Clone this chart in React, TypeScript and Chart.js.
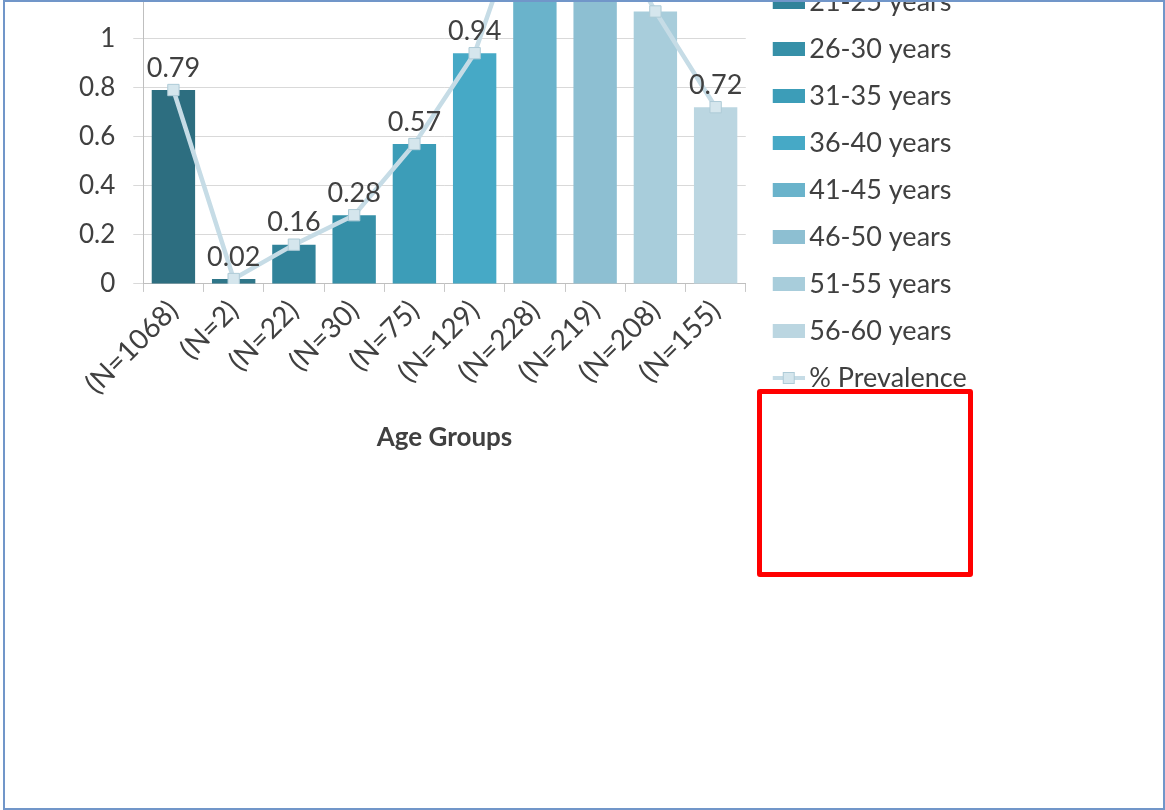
import React, { useEffect, useRef } from "react";
import { Chart, registerables } from "chart.js";

Chart.register(...registerables);

// Age groups (legend) and sample sizes (x-axis categories)
const groupNames = [
  "Total",
  "≤20 years",
  "21-25 years",
  "26-30 years",
  "31-35 years",
  "36-40 years",
  "41-45 years",
  "46-50 years",
  "51-55 years",
  "56-60 years",
];
const sampleSizes = [
  "(N=1068)",
  "(N=2)",
  "(N=22)",
  "(N=30)",
  "(N=75)",
  "(N=129)",
  "(N=228)",
  "(N=219)",
  "(N=208)",
  "(N=155)",
];
// % prevalence per group
const prevalence = [0.79, 0.02, 0.16, 0.28, 0.57, 0.94, 1.65, 1.55, 1.11, 0.72];
const barColors = [
  "#2d6e80",
  "#2f7689",
  "#31839a",
  "#3690a8",
  "#3c9db8",
  "#46a9c6",
  "#6ab3cb",
  "#8dbfd2",
  "#a8cddb",
  "#bbd6e1",
];
const lineColor = "#c6dce6";
const markerFill = "#d5e6ed";
const markerEdge = "#aecbd7";

const FONT = "Lato, 'Open Sans', sans-serif";
const TEXT = "#404040";

function swatch(color: string): HTMLCanvasElement {
  const c = document.createElement("canvas");
  c.width = 48;
  c.height = 14;
  const g = c.getContext("2d")!;
  g.fillStyle = color;
  g.fillRect(16, 0, 32, 14);
  return c;
}

function lineSwatch(): HTMLCanvasElement {
  const c = document.createElement("canvas");
  c.width = 48;
  c.height = 14;
  const g = c.getContext("2d")!;
  g.strokeStyle = lineColor;
  g.lineWidth = 4;
  g.beginPath();
  g.moveTo(16, 7);
  g.lineTo(48, 7);
  g.stroke();
  g.fillStyle = markerFill;
  g.strokeStyle = markerEdge;
  g.lineWidth = 1;
  g.fillRect(26, 1, 12, 12);
  g.strokeRect(26.5, 1.5, 11, 11);
  return c;
}

const valueLabels = {
  id: "valueLabels",
  afterDatasetsDraw(chart: any) {
    const meta = chart.getDatasetMeta(1);
    const ctx = chart.ctx;
    ctx.save();
    ctx.font = `27px ${FONT}`;
    ctx.fillStyle = TEXT;
    ctx.textAlign = "center";
    ctx.textBaseline = "middle";
    meta.data.forEach((pt: any, i: number) => {
      ctx.fillText(prevalence[i].toFixed(2), pt.x, pt.y - 22);
    });
    ctx.restore();
  },
};

export default function App() {
  const ref = useRef<HTMLCanvasElement>(null);

  useEffect(() => {
    if (!ref.current) return;
    const chart = new Chart(ref.current, {
      type: "bar",
      data: {
        labels: sampleSizes,
        datasets: [
          {
            type: "bar",
            label: "Age group",
            data: prevalence,
            backgroundColor: barColors,
            barPercentage: 0.72,
            categoryPercentage: 1,
            order: 1,
          },
          {
            type: "line",
            label: "% Prevalence",
            data: prevalence,
            borderColor: lineColor,
            borderWidth: 4.5,
            pointStyle: "rect",
            pointRadius: 8,
            pointBackgroundColor: markerFill,
            pointBorderColor: markerEdge,
            pointBorderWidth: 1,
            tension: 0,
            order: 0,
          },
        ],
      },
      options: {
        responsive: false,
        animation: false,
        layout: { padding: { top: 43, bottom: 10, left: 61, right: 191 } },
        plugins: {
          tooltip: { enabled: false },
          legend: {
            position: "right",
            labels: {
              usePointStyle: true,
              pointStyleWidth: 30,
              boxHeight: 14,
              padding: 20,
              color: TEXT,
              font: { family: FONT, size: 27 },
              generateLabels: () => {
                const items: any[] = groupNames.map((name, i) => ({
                  text: name,
                  fillStyle: barColors[i],
                  strokeStyle: barColors[i],
                  lineWidth: 0,
                  pointStyle: swatch(barColors[i]),
                  hidden: false,
                  datasetIndex: 0,
                  index: i,
                  fontColor: TEXT,
                }));
                items.push({
                  text: "% Prevalence",
                  fillStyle: lineColor,
                  strokeStyle: lineColor,
                  lineWidth: 0,
                  pointStyle: lineSwatch(),
                  hidden: false,
                  datasetIndex: 1,
                  fontColor: TEXT,
                });
                return items;
              },
            },
          },
        },
        scales: {
          x: {
            grid: {
              drawOnChartArea: false,
              drawTicks: true,
              tickLength: 8,
              color: "#c8c8c8",
            },
            border: { display: true, color: "#bfbfbf", width: 1 },
            ticks: {
              color: TEXT,
              font: { family: FONT, size: 28 },
              maxRotation: 45,
              minRotation: 45,
              padding: 2,
            },
            title: {
              display: true,
              text: "Age Groups",
              color: TEXT,
              font: { family: FONT, size: 26, weight: "bold" },
              padding: { top: 19, bottom: 40 },
            },
          },
          y: {
            min: 0,
            max: 2,
            grid: { color: "#d9d9d9", tickLength: 10, drawTicks: true },
            border: { display: true, color: "#bfbfbf", width: 1 },
            ticks: {
              stepSize: 0.2,
              color: TEXT,
              padding: 18,
              font: { family: FONT, size: 26 },
              callback: (v: any) => String(Math.round(Number(v) * 10) / 10),
            },
          },
        },
      },
      plugins: [valueLabels],
    });
    return () => chart.destroy();
  }, []);

  return (
    <div
      style={{
        position: "fixed",
        left: 0,
        top: 0,
        width: 1165,
        height: 810,
        overflow: "hidden",
        background: "#ffffff",
      }}
    >
      <canvas
        ref={ref}
        width={1165}
        height={753}
        style={{ position: "absolute", left: 0, top: -250, width: 1165, height: 753 }}
      />
      <div
        style={{
          position: "absolute",
          left: 3,
          top: 0,
          width: 1162,
          height: 810,
          boxSizing: "border-box",
          border: "2px solid #7196c9",
          pointerEvents: "none",
        }}
      />
      <div
        style={{
          position: "absolute",
          left: 757,
          top: 389,
          width: 216,
          height: 188,
          boxSizing: "border-box",
          border: "5px solid #ff0000",
          borderRadius: 3,
          pointerEvents: "none",
        }}
      />
    </div>
  );
}
